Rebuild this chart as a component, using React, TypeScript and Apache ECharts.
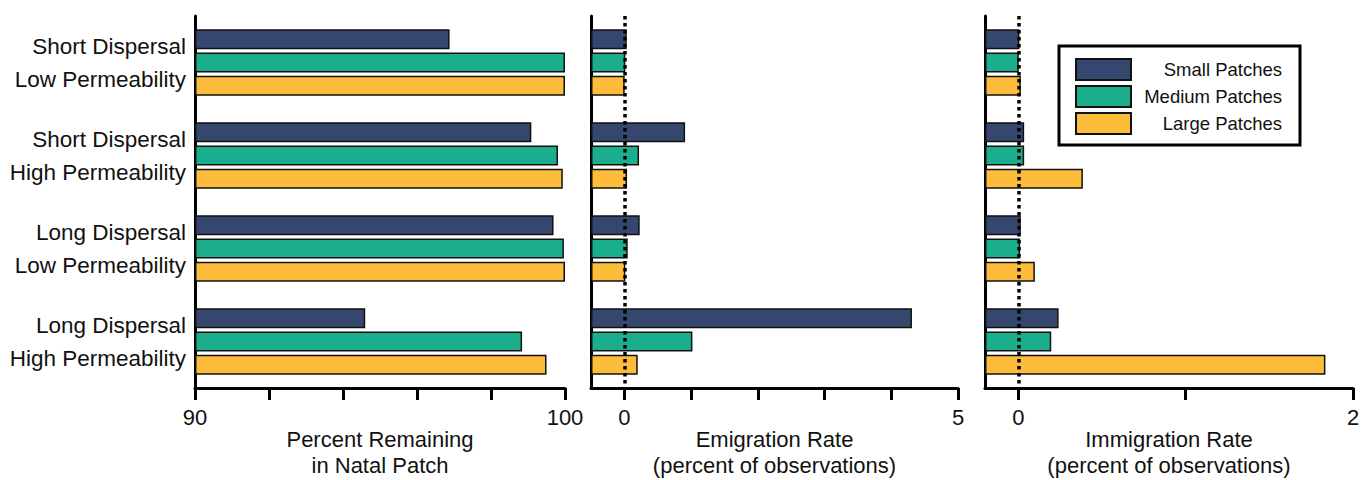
import React, { useEffect, useRef } from "react";
import * as echarts from "echarts";

const categories = [
  "Short Dispersal\nLow Permeability",
  "Short Dispersal\nHigh Permeability",
  "Long Dispersal\nLow Permeability",
  "Long Dispersal\nHigh Permeability",
];
const seriesNames = ["Small Patches", "Medium Patches", "Large Patches"];
const colors = ["#35476f", "#1aae8c", "#fdbd3b"];

const remainSmall = [96.88, 99.09, 99.69, 94.6];
const remainMedium = [100.0, 99.81, 99.97, 98.84];
const remainLarge = [100.0, 99.94, 100.0, 99.5];

const emigSmall = [0.035, 0.91, 0.23, 4.31];
const emigMedium = [0.015, 0.22, 0.05, 1.02];
const emigLarge = [0.005, 0.04, 0.015, 0.2];

const immigSmall = [0.006, 0.034, 0.014, 0.24];
const immigMedium = [0.002, 0.034, 0.01, 0.196];
const immigLarge = [0.014, 0.385, 0.098, 1.835];

const axisNames = [
  "Percent Remaining\nin Natal Patch",
  "Emigration Rate\n(percent of observations)",
  "Immigration Rate\n(percent of observations)",
];
const xMins = [90, -0.5, -0.2];
const xMaxs = [100, 5, 2];
const tickValues = [
  [90, 92, 94, 96, 98, 100],
  [0, 1, 2, 3, 4, 5],
  [0, 1, 2],
];
const labelValues = [
  [90, 100],
  [0, 5],
  [0, 2],
];

const FONT = "'Liberation Sans', Arial, sans-serif";

export default function App() {
  const ref = useRef<HTMLDivElement>(null);
  useEffect(() => {
    if (!ref.current) return;
    const chart = echarts.init(ref.current, null, { renderer: "svg" });
    const grids = [
      { left: 195, width: 370, top: 16, height: 372 },
      { left: 591, width: 367, top: 16, height: 372 },
      { left: 985, width: 368, top: 16, height: 372 },
    ].map((g) => ({ ...g, containLabel: false, outerBoundsMode: "none" }));
    const dataSets = [
      [remainSmall, remainMedium, remainLarge],
      [emigSmall, emigMedium, emigLarge],
      [immigSmall, immigMedium, immigLarge],
    ];
    const xAxes = grids.map((_, i) => ({
      type: "value",
      gridIndex: i,
      min: xMins[i],
      max: xMaxs[i],
      startValue: xMins[i],
      splitLine: { show: false },
      axisLine: { show: true, onZero: false, lineStyle: { color: "#000", width: 3 } },
      axisTick: {
        show: true,
        inside: false,
        length: 12,
        customValues: tickValues[i],
        lineStyle: { color: "#000", width: 3 },
      },
      axisLabel: {
        show: true,
        customValues: labelValues[i],
        margin: 18,
        fontSize: 22,
        color: "#111",
        fontFamily: FONT,
      },
      name: axisNames[i],
      nameLocation: "middle",
      nameGap: 38,
      nameMoveOverlap: false,
      nameTextStyle: { fontSize: 22, lineHeight: 26, color: "#111", fontFamily: FONT },
    }));
    const yAxes = grids.map((_, i) => ({
      type: "category",
      gridIndex: i,
      data: categories,
      inverse: true,
      axisLine: { show: true, onZero: false, lineStyle: { color: "#000", width: 3 } },
      axisTick: { show: false },
      splitLine: { show: false },
      axisLabel: {
        show: i === 0,
        fontSize: 22.5,
        lineHeight: 33,
        margin: 9,
        color: "#111",
        fontFamily: FONT,
        align: "right",
      },
    }));
    const series: any[] = [];
    dataSets.forEach((set, gi) => {
      set.forEach((vals, si) => {
        const s: any = {
          type: "bar",
          name: seriesNames[si],
          xAxisIndex: gi,
          yAxisIndex: gi,
          data: vals,
          barWidth: 20,
          barGap: "16%",
          itemStyle: { color: colors[si], borderColor: "#111", borderWidth: 1.5 },
        };
        if (gi > 0 && si === 2) {
          s.markLine = {
            silent: true,
            symbol: "none",
            z: 10,
            label: { show: false },
            lineStyle: { type: [3.5, 3.5], width: 3.5, color: "#000" },
            data: [{ xAxis: 0 }],
          };
        }
        series.push(s);
      });
    });
    const option: any = {
      animation: false,
      backgroundColor: "#fff",
      textStyle: { fontFamily: FONT },
      grid: grids,
      xAxis: xAxes,
      yAxis: yAxes,
      legend: {
        data: seriesNames,
        orient: "vertical",
        left: 1059,
        top: 46,
        padding: [12, 18, 10, 16],
        borderColor: "#000",
        borderWidth: 3,
        itemWidth: 55,
        itemHeight: 21,
        itemGap: 4,
        icon: "rect",
        itemStyle: { borderColor: "#111", borderWidth: 2 },
        formatter: "{a|{name}}",
        textStyle: {
          rich: {
            a: {
              width: 146,
              align: "right",
              fontSize: 18.5,
              color: "#111",
              fontFamily: FONT,
            },
          },
        },
      },
      series,
    };
    chart.setOption(option);
    return () => chart.dispose();
  }, []);
  return (
    <div
      ref={ref}
      style={{ position: "fixed", left: 0, top: 0, width: 1371, height: 480, background: "#fff" }}
    />
  );
}
